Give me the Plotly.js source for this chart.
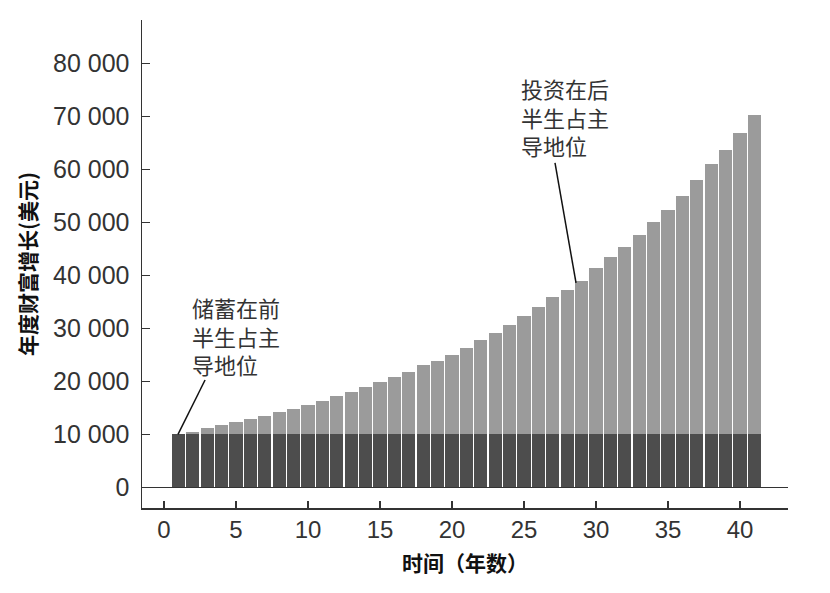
<!DOCTYPE html>
<html>
<head>
<meta charset="utf-8">
<script src="https://cdn.plot.ly/plotly-3.0.1.min.js"></script>
<style>
  html, body { margin: 0; padding: 0; background: #fff; }
  #chart { width: 830px; height: 593px; }
</style>
</head>
<body>
<div id="chart"></div>
<script>
const years = [];
for (let i = 1; i <= 41; i++) years.push(i);

// 每年的储蓄（深色部分）
const savings = [10000,10000,10000,10000,10000,10000,10000,10000,10000,10000,
  10000,10000,10000,10000,10000,10000,10000,10000,10000,10000,
  10000,10000,10000,10000,10000,10000,10000,10000,10000,10000,
  10000,10000,10000,10000,10000,10000,10000,10000,10000,10000,10000];

// 每年财富增长总额（柱子顶端）
const totals = [10000,10450,11100,11730,12300,12800,13430,14120,14750,15500,
  16200,17200,18020,18840,19780,20750,21700,23020,23770,25020,
  26340,27700,29070,30580,32240,33940,35880,37260,38840,41300,
  43440,45270,47540,50060,52400,55040,57940,60970,63680,66900,70240];

const investment = totals.map((t, i) => t - savings[i]);

const yTicks = [0,10000,20000,30000,40000,50000,60000,70000,80000];
const xTicks = [0,5,10,15,20,25,30,35,40];

const txtColor = '#333333';
const cjk = '"Noto Sans CJK SC", "Noto Sans", sans-serif';
const num = '"Liberation Sans", Arial, sans-serif';

var data = [
  {
    x: years,
    y: savings,
    type: 'bar',
    name: '储蓄',
    marker: { color: '#4d4d4d', line: { width: 0 } },
    hoverinfo: 'x+y'
  },
  {
    x: years,
    y: investment,
    type: 'bar',
    name: '投资',
    marker: { color: '#9b9b9b', line: { width: 0 } },
    hoverinfo: 'x+y'
  }
];

var layout = {
  width: 830,
  height: 593,
  paper_bgcolor: '#ffffff',
  plot_bgcolor: '#ffffff',
  barmode: 'stack',
  bargap: 0.08,
  showlegend: false,
  separators: '. ',
  margin: { l: 142, r: 42, t: 20, b: 85 },
  font: { family: num, color: txtColor },
  xaxis: {
    range: [-1.53, 43.33],
    tickvals: xTicks,
    ticks: 'inside',
    ticklen: 7,
    tickcolor: txtColor,
    tickwidth: 1.3,
    showline: true,
    linecolor: txtColor,
    linewidth: 1.5,
    showgrid: false,
    zeroline: false,
    tickfont: { size: 24, family: num, color: txtColor },
    title: {
      text: '时间（年数）',
      font: { size: 21, family: cjk, color: '#111', weight: 'bold' },
      standoff: 14
    }
  },
  yaxis: {
    range: [-3906, 88170],
    tickvals: yTicks,
    tickformat: ',d',
    ticks: 'inside',
    ticklen: 8,
    tickcolor: txtColor,
    tickwidth: 1.3,
    showline: true,
    linecolor: txtColor,
    linewidth: 1.5,
    showgrid: false,
    zeroline: true,
    zerolinecolor: txtColor,
    zerolinewidth: 1.5,
    ticklabelstandoff: 6,
    tickfont: { size: 25, family: num, color: txtColor },
    title: {
      text: '年度财富增长(美元)',
      font: { size: 21, family: cjk, color: '#111', weight: 'bold' },
      standoff: 10
    }
  },
  shapes: [
    { type: 'line', xref: 'x', yref: 'y', x0: 2.85, y0: 20245, x1: 0.97, y1: 10000,
      line: { color: '#111', width: 1.5 } },
    { type: 'line', xref: 'x', yref: 'y', x0: 27.15, y0: 61190, x1: 28.61, y1: 38550,
      line: { color: '#111', width: 1.5 } }
  ],
  annotations: [
    {
      text: '储蓄在前<br>半生占主<br>导地位',
      x: 1.8, y: 28550, xref: 'x', yref: 'y',
      xanchor: 'left', yanchor: 'middle', align: 'left',
      showarrow: false,
      font: { size: 22, family: cjk, color: txtColor }
    },
    {
      text: '投资在后<br>半生占主<br>导地位',
      x: 24.65, y: 69960, xref: 'x', yref: 'y',
      xanchor: 'left', yanchor: 'middle', align: 'left',
      showarrow: false,
      font: { size: 22, family: cjk, color: txtColor }
    }
  ]
};

Plotly.newPlot(document.getElementById('chart'), data, layout, { displayModeBar: false, staticPlot: true });
</script>
</body>
</html>
